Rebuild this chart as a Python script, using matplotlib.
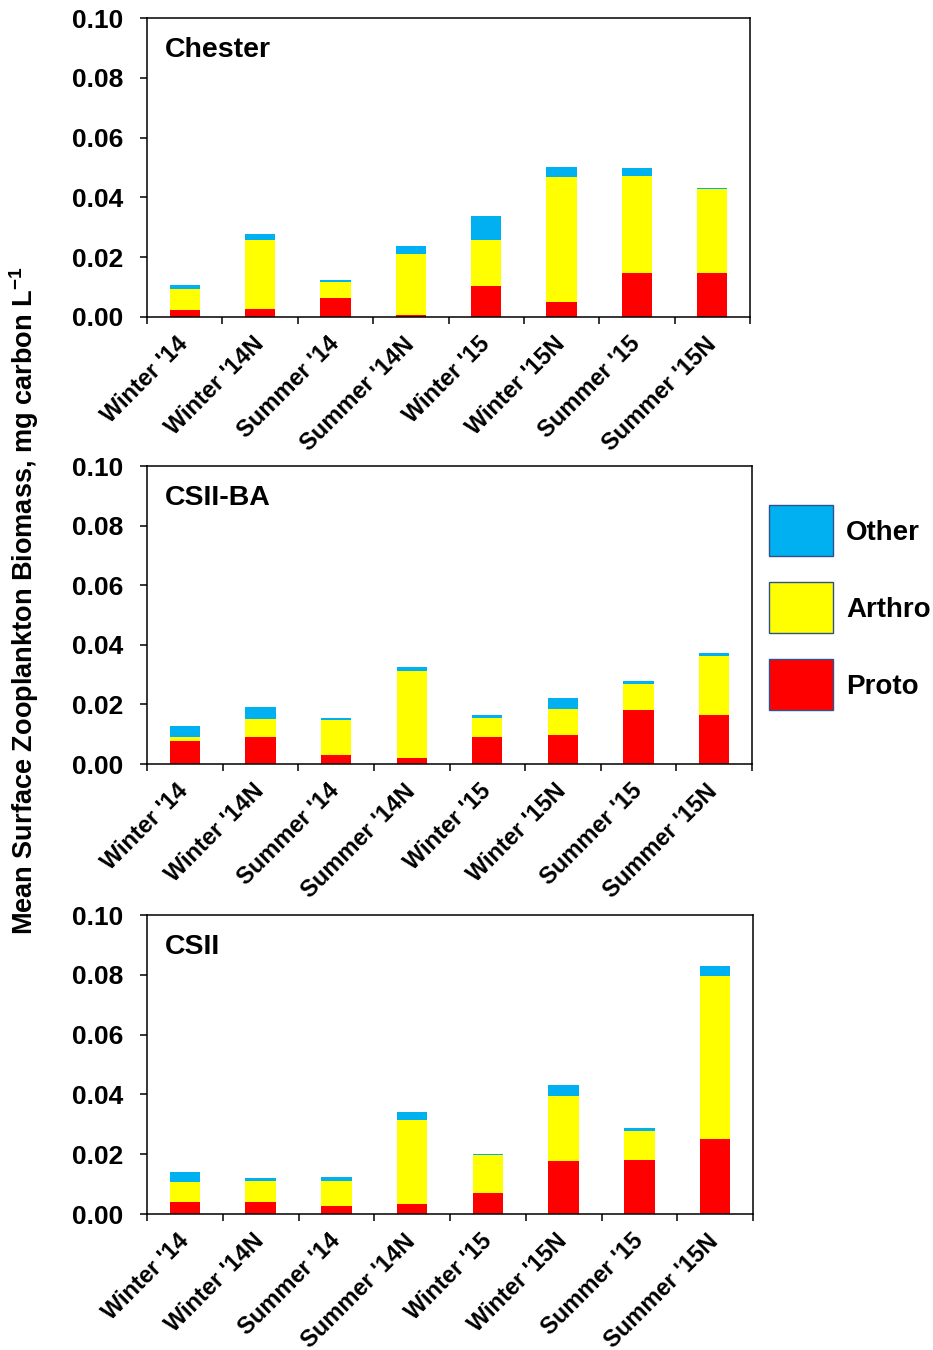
import matplotlib
matplotlib.use("Agg")
import matplotlib.pyplot as plt
from matplotlib.patches import Rectangle
import numpy as np

plt.rcParams['font.family'] = ['Liberation Sans', 'DejaVu Sans']
plt.rcParams['font.weight'] = 'bold'
plt.rcParams['mathtext.fontset'] = 'custom'
plt.rcParams['mathtext.rm'] = 'Liberation Sans:bold'
plt.rcParams['mathtext.bf'] = 'Liberation Sans:bold'
plt.rcParams['mathtext.default'] = 'bf'

# categories (x axis)
categories = ["Winter '14", "Winter '14N", "Summer '14", "Summer '14N",
              "Winter '15", "Winter '15N", "Summer '15", "Summer '15N"]

# Chester
chester_proto = [0.0022, 0.0027, 0.0062, 0.0008, 0.0103, 0.0051, 0.0147, 0.0147]
chester_arthro = [0.0071, 0.0231, 0.0056, 0.0204, 0.0155, 0.0416, 0.0326, 0.0280]
chester_other = [0.0014, 0.0020, 0.0006, 0.0025, 0.0080, 0.0036, 0.0024, 0.0005]

# CSII-BA
csiiba_proto = [0.0076, 0.0090, 0.0031, 0.0021, 0.0090, 0.0096, 0.0181, 0.0166]
csiiba_arthro = [0.0015, 0.0060, 0.0115, 0.0290, 0.0066, 0.0090, 0.0089, 0.0196]
csiiba_other = [0.0035, 0.0042, 0.0010, 0.0016, 0.0010, 0.0036, 0.0007, 0.0011]

# CSII
csii_proto = [0.0039, 0.0039, 0.0026, 0.0035, 0.0070, 0.0177, 0.0181, 0.0250]
csii_arthro = [0.0067, 0.0072, 0.0084, 0.0281, 0.0127, 0.0219, 0.0095, 0.0547]
csii_other = [0.0036, 0.0010, 0.0015, 0.0026, 0.0005, 0.0035, 0.0010, 0.0031]

panels = [
    ("Chester", chester_proto, chester_arthro, chester_other),
    ("CSII-BA", csiiba_proto, csiiba_arthro, csiiba_other),
    ("CSII", csii_proto, csii_arthro, csii_other),
]

c_other = '#00B0F0'
c_arthro = '#FFFF00'
c_proto = '#FF0000'

W, H = 933, 1350
fig = plt.figure(figsize=(W / 100, H / 100), dpi=100)

# axes boxes in pixels: left, top, right, bottom
boxes = [(147, 18, 750, 317), (147, 466, 752, 764), (147, 915, 753, 1214)]

x = np.arange(len(categories))
yt = np.arange(0, 0.101, 0.02)
for (name, proto, arthro, other), (l, t, r, b) in zip(panels, boxes):
    ax = fig.add_axes([l / W, 1 - b / H, (r - l) / W, (b - t) / H])
    proto = np.array(proto)
    arthro = np.array(arthro)
    other = np.array(other)
    ax.bar(x, proto, width=0.4, color=c_proto, linewidth=0)
    ax.bar(x, arthro, width=0.4, bottom=proto, color=c_arthro, linewidth=0)
    ax.bar(x, other, width=0.4, bottom=proto + arthro, color=c_other, linewidth=0)

    ax.set_xlim(-0.5, len(categories) - 0.5)
    ax.set_ylim(0, 0.10)
    ax.set_yticks(yt)
    ax.set_yticklabels([f"{v:.2f}" for v in yt], fontsize=19, fontweight='bold')
    ax.tick_params(axis='y', direction='out', length=5.3, width=1.1, pad=12)

    ax.set_xticks(x)
    ax.set_xticklabels(categories, rotation=45, ha='right', va='center',
                       rotation_mode='anchor', fontsize=17, fontweight='bold')
    ax.tick_params(axis='x', which='major', length=0, pad=17)
    ax.set_xticks(np.arange(-0.5, len(categories)), minor=True)
    ax.tick_params(axis='x', which='minor', direction='out', length=5.3, width=1.1)

    for s in ax.spines.values():
        s.set_linewidth(1.1)

    ax.text(0.03, 0.869, name, transform=ax.transAxes, fontsize=20.5,
            fontweight='bold', va='baseline', ha='left')

fig.text(24 / W, 1 - 601 / H, "Mean Surface Zooplankton Biomass, mg carbon L$^{-1}$",
         rotation=90, ha='center', va='center', fontsize=19.5, fontweight='bold')

# legend drawn as boxes + labels in figure pixels
leg_labels = ['Other', 'Arthro', 'Proto']
leg_colors = [c_other, c_arthro, c_proto]
leg_tops = [505, 582, 659]
for lab, col, top in zip(leg_labels, leg_colors, leg_tops):
    fig.add_artist(Rectangle((769 / W, 1 - (top + 51) / H), 64 / W, 51 / H,
                             transform=fig.transFigure, facecolor=col,
                             edgecolor='#2F528F', linewidth=1))
    fig.text(846 / W, 1 - (top + 35) / H, lab, ha='left', va='baseline',
             fontsize=20, fontweight='bold')

fig.savefig('out.png', dpi=100)
